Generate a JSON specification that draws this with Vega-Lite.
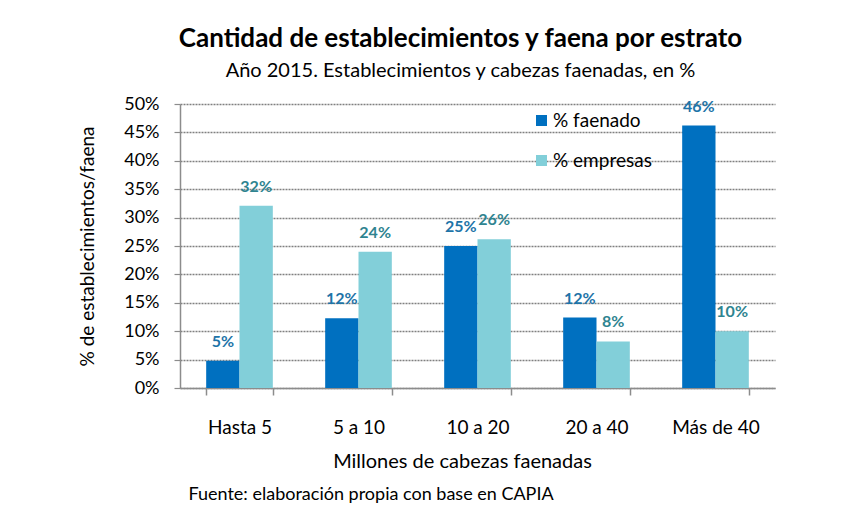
{
  "$schema": "https://vega.github.io/schema/vega-lite/v6.json",
  "width": 595,
  "height": 284,
  "autosize": {"type": "none"},
  "padding": {"left": 180, "top": 104, "right": 81, "bottom": 123},
  "background": "white",
  "config": {"font": "Lato", "view": {"stroke": null}},
  "title": {
    "text": "Cantidad de establecimientos y faena por estrato",
    "subtitle": "Año 2015. Establecimientos  y cabezas faenadas, en %",
    "fontSize": 26,
    "fontWeight": "bold",
    "color": "black",
    "subtitleFontSize": 20,
    "subtitleColor": "black",
    "subtitlePadding": 9,
    "anchor": "middle",
    "dx": -17,
    "offset": 14
  },
  "data": {
    "values": [
      {"estrato": "Hasta 5", "serie": "% faenado", "valor": 0.048},
      {"estrato": "Hasta 5", "serie": "% empresas", "valor": 0.321},
      {"estrato": "5 a 10", "serie": "% faenado", "valor": 0.123},
      {"estrato": "5 a 10", "serie": "% empresas", "valor": 0.240},
      {"estrato": "10 a 20", "serie": "% faenado", "valor": 0.250},
      {"estrato": "10 a 20", "serie": "% empresas", "valor": 0.262},
      {"estrato": "20 a 40", "serie": "% faenado", "valor": 0.124},
      {"estrato": "20 a 40", "serie": "% empresas", "valor": 0.082},
      {"estrato": "Más de 40", "serie": "% faenado", "valor": 0.462},
      {"estrato": "Más de 40", "serie": "% empresas", "valor": 0.100}
    ]
  },
  "encoding": {
    "x": {
      "field": "estrato",
      "type": "nominal",
      "sort": ["Hasta 5", "5 a 10", "10 a 20", "20 a 40", "Más de 40"],
      "scale": {"paddingInner": 0.44, "paddingOuter": 0.22},
      "axis": {
        "labelAngle": 0,
        "labelFontSize": 19,
        "labelColor": "black",
        "labelPadding": 23,
        "tickBand": "extent",
        "tickSize": 7,
        "tickColor": "#8c8c8c",
        "tickWidth": 1.5,
        "domainColor": "#8c8c8c",
        "domainWidth": 1.5,
        "grid": false,
        "title": "Millones de cabezas faenadas",
        "titleFontSize": 20,
        "titleFontWeight": "normal",
        "titleColor": "black",
        "titleX": 282,
        "titleY": 79,
        "titleBaseline": "alphabetic"
      }
    },
    "xOffset": {"field": "serie", "type": "nominal", "sort": ["% faenado", "% empresas"]},
    "y": {
      "field": "valor",
      "type": "quantitative",
      "scale": {"domain": [0, 0.5], "nice": false},
      "axis": {
        "format": ".0%",
        "values": [0, 0.05, 0.1, 0.15, 0.2, 0.25, 0.3, 0.35, 0.4, 0.45, 0.5],
        "grid": true,
        "gridDash": [2, 1],
        "gridColor": "#808080",
        "gridWidth": 1.3,
        "domainColor": "#8c8c8c",
        "domainWidth": 1.5,
        "tickColor": "#8c8c8c",
        "tickSize": 6,
        "tickWidth": 1.2,
        "labelPadding": 15,
        "labelFontSize": 18,
        "labelColor": "black",
        "title": "% de establecimientos/faena",
        "titleFontSize": 19,
        "titleFontWeight": "normal",
        "titleColor": "black",
        "titleAngle": -90,
        "titleX": -93,
        "titleY": 142,
        "titleAlign": "center",
        "titleBaseline": "middle"
      }
    }
  },
  "layer": [
    {
      "mark": {"type": "bar"},
      "encoding": {
        "color": {
          "field": "serie",
          "type": "nominal",
          "scale": {"domain": ["% faenado", "% empresas"], "range": ["#0070C0", "#82CFD9"]},
          "legend": {
            "orient": "none",
            "legendX": 352,
            "legendY": 7,
            "title": null,
            "symbolType": "square",
            "symbolSize": 121,
            "symbolStrokeWidth": 0,
            "labelFontSize": 19,
            "labelColor": "black",
            "labelOffset": 2,
            "rowPadding": 20
          }
        }
      }
    },
    {
      "mark": {"type": "text", "dy": -14, "baseline": "alphabetic", "fontWeight": "bold", "fontSize": 16},
      "encoding": {
        "text": {"field": "valor", "type": "quantitative", "format": ".0%"},
        "color": {"condition": {"test": "datum.serie === '% faenado'", "value": "#1E74A8"}, "value": "#2F8490"},
        "y": {
          "field": "valor",
          "type": "quantitative",
          "axis": {
            "orient": "right",
            "grid": false,
            "labels": false,
            "ticks": false,
            "domain": false,
            "title": "Fuente: elaboración propia  con base en CAPIA",
            "titleFontSize": 18,
            "titleFontWeight": "normal",
            "titleColor": "black",
            "titleAngle": 0,
            "titleX": -587,
            "titleY": 395,
            "titleAlign": "left",
            "titleBaseline": "alphabetic"
          }
        }
      }
    }
  ],
  "resolve": {"axis": {"y": "independent"}}
}
